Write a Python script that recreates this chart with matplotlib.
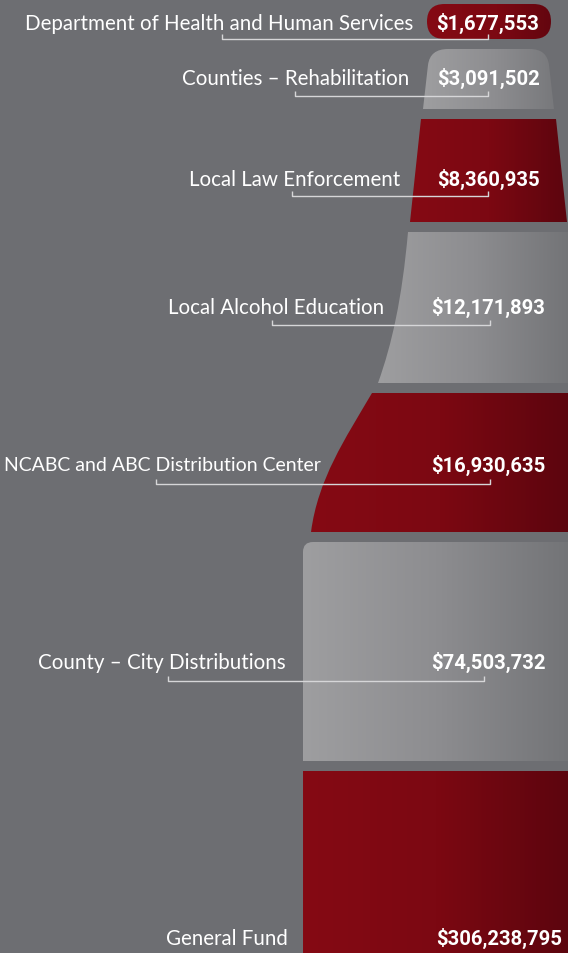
import numpy as np
import matplotlib
matplotlib.use("Agg")
import matplotlib.pyplot as plt
from matplotlib.path import Path
from matplotlib.patches import PathPatch, FancyBboxPatch
from matplotlib.colors import LinearSegmentedColormap

# data
categories = [
    "Department of Health and Human Services",
    "Counties \u2013 Rehabilitation",
    "Local Law Enforcement",
    "Local Alcohol Education",
    "NCABC and ABC Distribution Center",
    "County \u2013 City Distributions",
    "General Fund",
]
values = [1677553, 3091502, 8360935, 12171893, 16930635, 74503732, 306238795]

W, H = 568, 954
BG = "#6d6e72"
red_cmap = LinearSegmentedColormap.from_list("red", ["#850a14", "#7c0812", "#5c050e"])
gray_cmap = LinearSegmentedColormap.from_list("gray", ["#9e9ea0", "#8d8d90", "#737477"])

fig = plt.figure(figsize=(W / 100, H / 100), dpi=100, facecolor=BG)
ax = fig.add_axes([0, 0, 1, 1])
ax.axis("off")
ax.set_facecolor(BG)

M, L, C, Q, Z = Path.MOVETO, Path.LINETO, Path.CURVE4, Path.CURVE3, Path.CLOSEPOLY

# bottle pieces, pixel coords (y down)
shapes = [
    None,  # pill, drawn separately
    ([(423, 110), (428, 66), (430, 50), (448, 50), (530, 50), (547, 50), (549, 66), (554, 110), (423, 110)],
     [M, L, Q, Q, L, Q, Q, L, Z]),
    ([(421, 120), (556, 120), (567, 223), (410, 223), (421, 120)], [M, L, L, L, Z]),
    ([(408, 233), (570, 233), (570, 384), (378, 384), (392, 345), (402, 300), (408, 233), (408, 233)],
     [M, L, L, L, C, C, C, Z]),
    ([(372, 394), (570, 394), (570, 533), (311, 533), (318, 480), (345, 440), (372, 394), (372, 394)],
     [M, L, L, L, C, C, C, Z]),
    ([(303, 553), (303, 543), (313, 543), (570, 543), (570, 762), (303, 762), (303, 553)],
     [M, Q, Q, L, L, L, Z]),
    ([(303, 772), (570, 772), (570, 960), (303, 960), (303, 772)], [M, L, L, L, Z]),
]
grad = np.linspace(0, 1, 256).reshape(1, -1)


def fill_gradient(patch, cmap):
    ax.add_patch(patch)
    patch.set_facecolor("none")
    patch.set_edgecolor("none")
    ext = patch.get_path().get_extents()
    if isinstance(patch, FancyBboxPatch):
        ext = patch.get_bbox()
    im = ax.imshow(grad, cmap=cmap, aspect="auto",
                   extent=[ext.x0, max(ext.x1, 568), ext.y1, ext.y0], zorder=1)
    im.set_clip_path(patch)


for i, shp in enumerate(shapes):
    cmap = red_cmap if i % 2 == 0 else gray_cmap
    if shp is None:
        patch = FancyBboxPatch((427, 5), 124, 35,
                               boxstyle="round,pad=0,rounding_size=17.5", transform=ax.transData)
    else:
        patch = PathPatch(Path(*shp))
    fill_gradient(patch, cmap)

ax.set_xlim(0, W)
ax.set_ylim(H, 0)

# label positions
label_right = [413, 409, 400, 384, 321, 286, 288]
label_y = [24, 79, 180, 308, 466, 663, 939]
label_size = [14.8, 14.8, 14.8, 14.8, 14.0, 14.8, 14.8]
brk_left = [222, 295, 292, 272, 156, 168, None]
brk_right = [488, 488, 488, 490, 490, 484, None]
brk_y = [40, 97, 197, 326, 485, 682, None]
value_x = [488, 488, 489, 488, 488, 488, 499]

for i, cat in enumerate(categories):
    ax.text(label_right[i], label_y[i], cat, ha="right", va="center", color="white",
            fontsize=label_size[i], family="Lato", zorder=5)
    ax.text(value_x[i], label_y[i] - 1, f"${values[i]:,}", ha="center", va="center", color="white",
            fontsize=14.6, family="Roboto", fontweight="bold", zorder=5)
    if brk_left[i] is not None:
        xs = [brk_left[i], brk_left[i], brk_right[i], brk_right[i]]
        ys = [brk_y[i] - 5, brk_y[i], brk_y[i], brk_y[i] - 5]
        ax.plot(xs, ys, color="#d6d6d8", lw=1, zorder=4, solid_capstyle="butt")

fig.savefig("out.png", dpi=100, facecolor=BG)
